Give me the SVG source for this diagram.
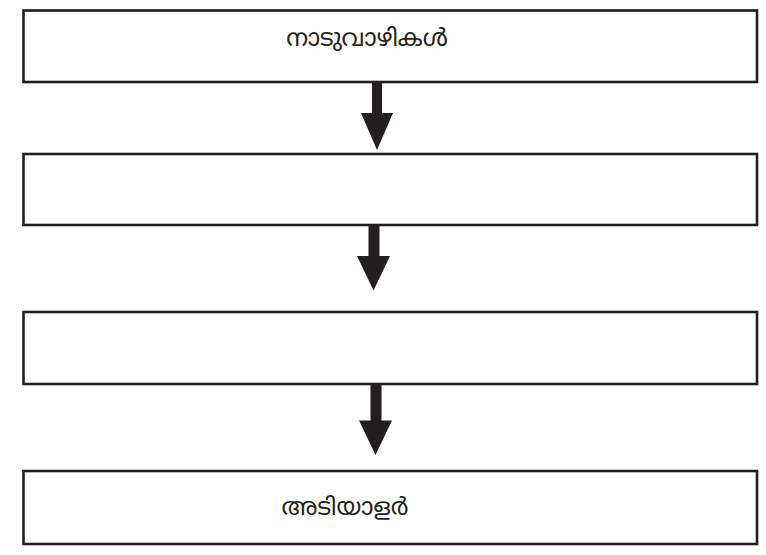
<svg xmlns="http://www.w3.org/2000/svg" width="766" height="555" viewBox="0 0 766 555">
  <style>
    .box { fill: #ffffff; stroke: #231f20; stroke-width: 2.6; }
    .arrow { fill: #231f20; stroke: none; }
    .label { font-family: "Noto Sans Malayalam", "Noto Sans", "DejaVu Sans", sans-serif; font-size: 24px; fill: #231f20; text-anchor: middle; }
  </style>
  <rect width="766" height="555" fill="#ffffff"/>

  <g id="node-naduvazhikal">
    <rect class="box" x="23.5" y="10.5" width="733.5" height="71.5"/>
    <text class="label" x="367" y="46">നാടുവാഴികൾ</text>
  </g>

  <g id="node-2">
    <rect class="box" x="23.5" y="154" width="733.5" height="71"/>
  </g>

  <g id="node-3">
    <rect class="box" x="23.5" y="312" width="733.5" height="72"/>
  </g>

  <g id="node-adiyalar">
    <rect class="box" x="23.5" y="471" width="733.5" height="73"/>
    <text class="label" x="345" y="515">അടിയാളർ</text>
  </g>

  <g id="connectors">
    <polygon class="arrow" points="372,83 382,83 382,113 393,113 377,150 361,113 372,113"/>
    <polygon class="arrow" points="368.5,226 379.5,226 379.5,256 390,256 373.5,290.5 357,256 368.5,256"/>
    <polygon class="arrow" points="370.5,385 381.5,385 381.5,420.5 392,420.5 375.5,455 359,420.5 370.5,420.5"/>
  </g>
</svg>
